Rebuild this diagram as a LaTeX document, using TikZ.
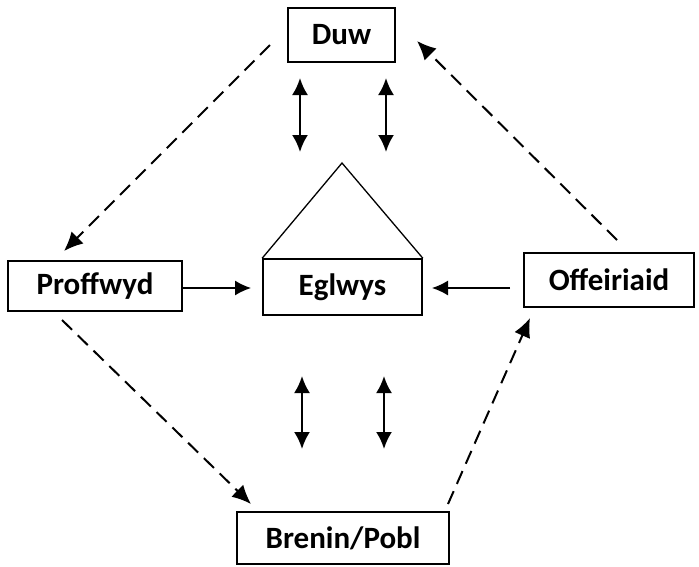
\documentclass[tikz,border=0pt]{standalone}
\usepackage{fontspec}
\setmainfont{Carlito}
\usetikzlibrary{arrows.meta}
\begin{document}
\begin{tikzpicture}[x=1pt,y=-1pt,
  box/.style={draw,line width=1.6pt,minimum width=#1,inner sep=0pt,font=\fontsize{31}{34}\selectfont\bfseries},
  solidarr/.style={line width=1.4pt,-{Latex[length=16pt,width=15pt]}},
  dbl/.style={line width=2.2pt,{Latex[length=17pt,width=16pt]}-{Latex[length=17pt,width=16pt]}},
  dasharr/.style={line width=2pt,dash pattern=on 14pt off 8pt,-{Latex[length=19pt,width=17pt]}}]
\useasboundingbox (0,0) rectangle (699,566);
\node[box=107pt,minimum height=54pt] (duw) at (341.5,35) {Duw};
\node[box=174pt,minimum height=50pt] (proff) at (95,286) {Proffwyd};
\node[box=159pt,minimum height=56pt] (egl) at (342.5,287) {Eglwys};
\node[box=170pt,minimum height=54pt] (off) at (609,280) {Offeiriaid};
\node[box=212pt,minimum height=52pt] (bren) at (343,538) {Brenin/Pobl};
% roof
\coordinate (apex) at (342,163);
\draw[line width=1.3pt] (egl.north west) -- (apex) -- (egl.north east);
% solid arrows
\coordinate (pe) at (251,288);
\draw[solidarr] (proff.east |- pe) -- (pe);
\coordinate (os) at (510,288); \coordinate (oe) at (432,288);
\draw[solidarr] (os) -- (oe);
% double arrows
\coordinate (a1) at (300,78); \coordinate (a2) at (300,152);
\coordinate (b1) at (386,78); \coordinate (b2) at (386,152);
\coordinate (c1) at (302,376); \coordinate (c2) at (302,449);
\coordinate (d1) at (384,376); \coordinate (d2) at (384,449);
\draw[dbl] (a1) -- (a2);
\draw[dbl] (b1) -- (b2);
\draw[dbl] (c1) -- (c2);
\draw[dbl] (d1) -- (d2);
% dashed arrows
\coordinate (s1) at (270,45); \coordinate (t1) at (64,251);
\draw[dasharr] (s1) -- (t1);
\coordinate (s2) at (617,240); \coordinate (t2) at (417,41);
\draw[dasharr] (s2) -- (t2);
\coordinate (s3) at (62,320); \coordinate (t3) at (251,504);
\draw[dasharr] (s3) -- (t3);
\coordinate (s4) at (448,504); \coordinate (t4) at (530,318);
\draw[dasharr] (s4) -- (t4);
\end{tikzpicture}
\end{document}
